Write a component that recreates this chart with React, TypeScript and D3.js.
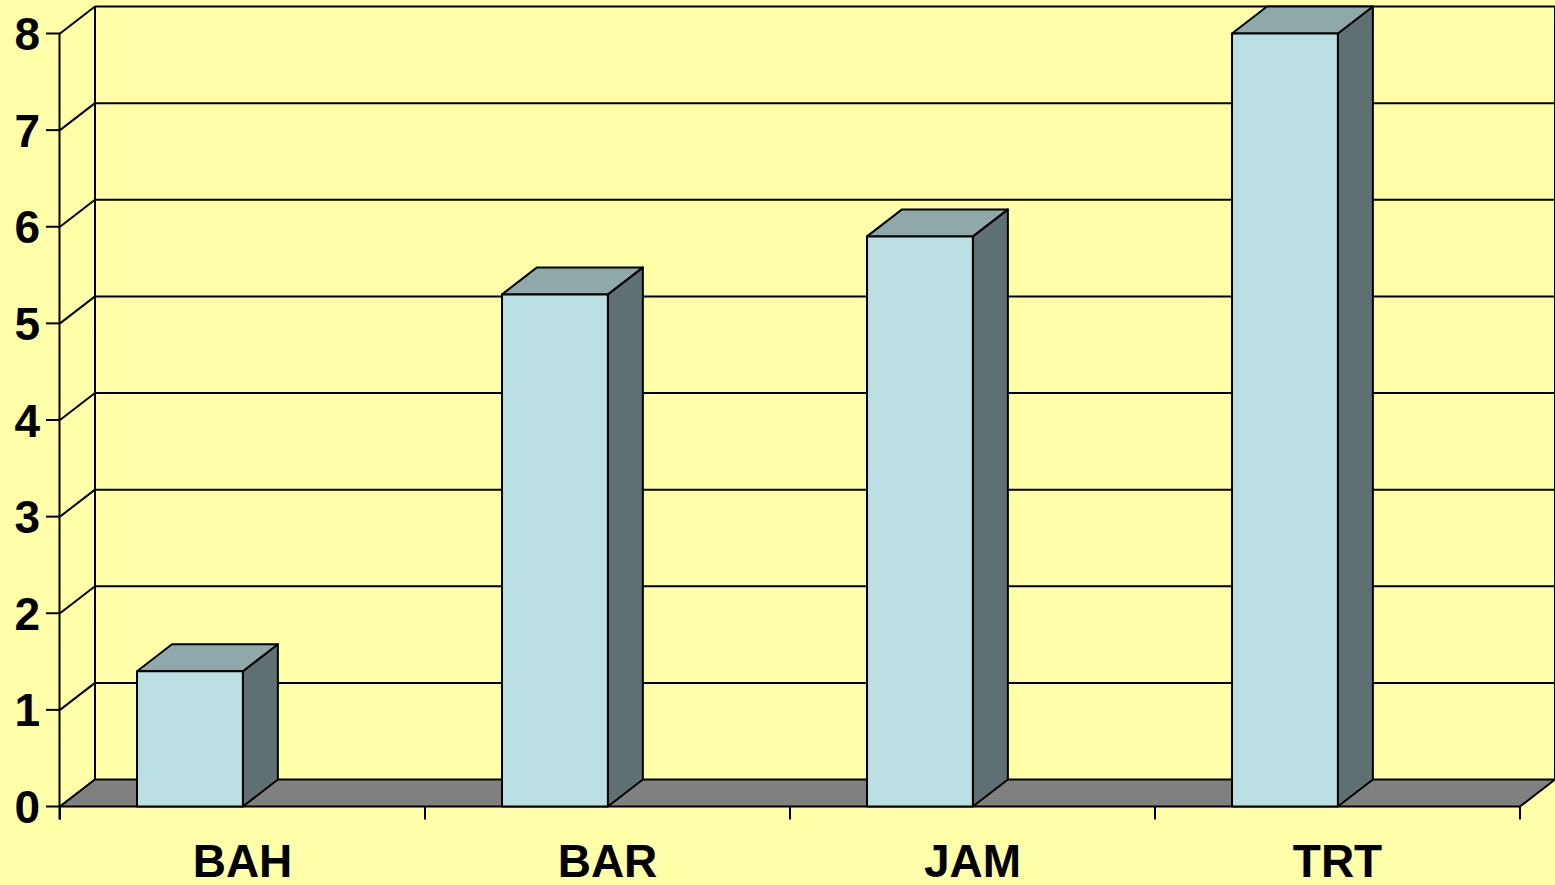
import React from "react";
import * as d3 from "d3";

const categories = ["BAH", "BAR", "JAM", "TRT"];
const values = [1.4, 5.3, 5.9, 8.0];
const yTicks = [0, 1, 2, 3, 4, 5, 6, 7, 8];

const W = 1555;
const H = 885;
const BG = "#FFFFAA";
const FRONT = "#BBE0E3";
const TOP = "#8FA9AB";
const SIDE = "#5F7073";
const FLOOR = "#808080";

// oblique depth offset of the 3D box
const DX = 35;
const DY = -27;

export default function App() {
  const x = d3.scaleBand<string>().domain(categories).range([60, 1520]).padding(0);
  const y = d3.scaleLinear().domain([0, 8]).range([806.5, 33.5]);
  const bw = x.bandwidth();
  const barOff = bw * 0.211;
  const barW = bw * 0.29;

  const x0 = 60;
  const x1 = 1520;
  const y0 = y(0);
  const yTop = y(8);

  const pts = (p: [number, number][]) => p.map((q) => q.join(",")).join(" ");

  return (
    <svg
      width={W}
      height={H}
      style={{ position: "absolute", left: 0, top: 0 }}
      fontFamily="'Liberation Sans', Arial, sans-serif"
    >
      <rect x={0} y={0} width={W} height={H} fill={BG} />

      {/* back wall gridlines and left-wall diagonals */}
      {yTicks.map((t) => (
        <g key={"g" + t}>
          {t > 0 && (
            <line
              x1={x0 + DX}
              x2={x1 + DX}
              y1={y(t) + DY}
              y2={y(t) + DY}
              stroke="#000"
              strokeWidth={2}
            />
          )}
          <line x1={x0} y1={y(t)} x2={x0 + DX} y2={y(t) + DY} stroke="#000" strokeWidth={2} />
        </g>
      ))}
      {/* wall edges */}
      <line x1={x0 + DX} x2={x0 + DX} y1={yTop + DY} y2={y0 + DY} stroke="#000" strokeWidth={2} />
      <line x1={x1 + DX} x2={x1 + DX} y1={yTop + DY} y2={y0 + DY} stroke="#000" strokeWidth={2} />

      {/* floor */}
      <polygon
        points={pts([
          [x0, y0],
          [x1, y0],
          [x1 + DX, y0 + DY],
          [x0 + DX, y0 + DY],
        ])}
        fill={FLOOR}
        stroke="#000"
        strokeWidth={2}
        strokeLinejoin="round"
      />

      {/* columns */}
      {categories.map((c, i) => {
        const l = (x(c) as number) + barOff;
        const r = l + barW;
        const t = y(values[i]);
        return (
          <g key={c} stroke="#000" strokeWidth={2} strokeLinejoin="round">
            <polygon
              points={pts([
                [r, t],
                [r + DX, t + DY],
                [r + DX, y0 + DY],
                [r, y0],
              ])}
              fill={SIDE}
            />
            <polygon
              points={pts([
                [l, t],
                [l + DX, t + DY],
                [r + DX, t + DY],
                [r, t],
              ])}
              fill={TOP}
            />
            <rect x={l} y={t} width={barW} height={y0 - t} fill={FRONT} />
          </g>
        );
      })}

      {/* value axis */}
      <line x1={x0 - 0.5} x2={x0 - 0.5} y1={yTop} y2={y0 + 13} stroke="#000" strokeWidth={2} />
      {yTicks.map((t) => (
        <g key={"t" + t}>
          <line x1={46} x2={x0} y1={y(t)} y2={y(t)} stroke="#000" strokeWidth={2} />
          <text
            x={40}
            y={y(t) + 16.5}
            textAnchor="end"
            fontSize={46}
            fontWeight="bold"
            fill="#000"
          >
            {t}
          </text>
        </g>
      ))}

      {/* category axis */}
      {[...categories.map((c) => x(c) as number), x1].map((v, i) => (
        <line key={"c" + i} x1={v} x2={v} y1={y0} y2={y0 + 13} stroke="#000" strokeWidth={2} />
      ))}
      {categories.map((c) => (
        <text
          key={"l" + c}
          x={(x(c) as number) + bw / 2}
          y={877}
          textAnchor="middle"
          fontSize={46}
          fontWeight="bold"
          fill="#000"
        >
          {c}
        </text>
      ))}
    </svg>
  );
}
